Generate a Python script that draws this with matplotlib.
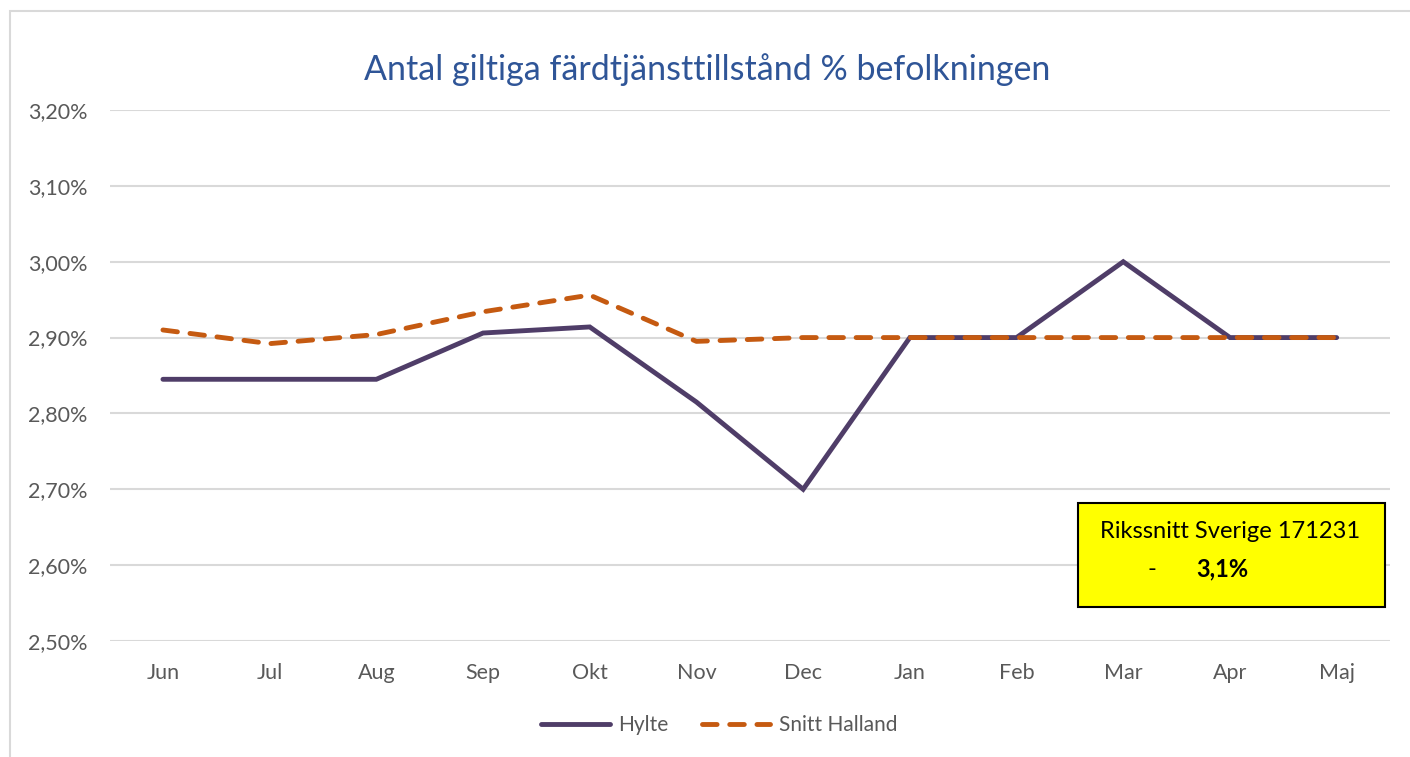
import matplotlib
matplotlib.use("Agg")
import matplotlib.pyplot as plt
from matplotlib.patches import Rectangle

months = ["Jun", "Jul", "Aug", "Sep", "Okt", "Nov", "Dec", "Jan", "Feb", "Mar", "Apr", "Maj"]
hylte = [2.845, 2.845, 2.845, 2.906, 2.914, 2.815, 2.70, 2.90, 2.90, 3.00, 2.90, 2.90]
snitt_halland = [2.910, 2.892, 2.904, 2.934, 2.956, 2.895, 2.90, 2.90, 2.90, 2.90, 2.90, 2.90]
yticks = [2.50, 2.60, 2.70, 2.80, 2.90, 3.00, 3.10, 3.20]
ytick_labels = ["2,50%", "2,60%", "2,70%", "2,80%", "2,90%", "3,00%", "3,10%", "3,20%"]

plt.rcParams['font.family'] = ['Lato', 'DejaVu Sans']

W, H = 1410, 757
fig = plt.figure(figsize=(W / 100, H / 100), dpi=100)

# chart border
fig.patches.append(Rectangle((10 / W, -0.01), 1.0, 1 - 11 / H + 0.01, transform=fig.transFigure,
                             fill=False, edgecolor="#D9D9D9", linewidth=1.5, zorder=0))

ax = fig.add_axes([109.6 / W, 1 - 641 / H, (1390 - 109.6) / W, (641 - 110) / H])
x = list(range(len(months)))
ax.plot(x, hylte, color="#4F3D68", linewidth=3.5, solid_capstyle="round", solid_joinstyle="miter",
        label="Hylte", zorder=3)
ax.plot(x, snitt_halland, color="#C55A11", linewidth=3.5, linestyle=(0, (3.0, 2.6)),
        dash_capstyle="round", label="Snitt Halland", zorder=4)

ax.set_xlim(-0.5, len(months) - 0.5)
ax.set_ylim(2.50, 3.20)
ax.set_yticks(yticks)
ax.set_yticklabels(ytick_labels)
ax.set_xticks(x)
ax.set_xticklabels(months)
ax.tick_params(axis="both", length=0, labelsize=15.5, labelcolor="#595959")
ax.tick_params(axis="y", pad=16)
ax.tick_params(axis="x", pad=16)
ax.grid(axis="y", color="#D9D9D9", linewidth=1.5)
ax.set_axisbelow(True)
for s in ax.spines.values():
    s.set_visible(False)

fig.text(707 / W, 1 - 70 / H, "Antal giltiga färdtjänsttillstånd % befolkningen",
         ha="center", va="center", fontsize=24.5, color="#2F5597")

leg = fig.legend(loc="center", bbox_to_anchor=(719 / W, 1 - 725 / H), ncol=2, frameon=False,
                 fontsize=15, handlelength=3.3, columnspacing=1.6, handletextpad=0.4)
for t in leg.get_texts():
    t.set_color("#595959")

# yellow annotation box
fig.patches.append(Rectangle((1078 / W, 1 - 607 / H), (1385 - 1078) / W, (607 - 503) / H,
                             transform=fig.transFigure, facecolor="#FFFF00", edgecolor="black",
                             linewidth=1.5, zorder=5))
fig.text(1230 / W, 1 - 532 / H, "Rikssnitt Sverige 171231", ha="center", va="center",
         fontsize=17, color="black", zorder=6)
fig.text(1152 / W, 1 - 569 / H, "-", ha="center", va="center", fontsize=17, color="black", zorder=6)
fig.text(1196 / W, 1 - 569 / H, "3,1%", ha="left", va="center", fontsize=17, fontweight="bold",
         color="black", zorder=6)

fig.savefig("out.png", dpi=100)
